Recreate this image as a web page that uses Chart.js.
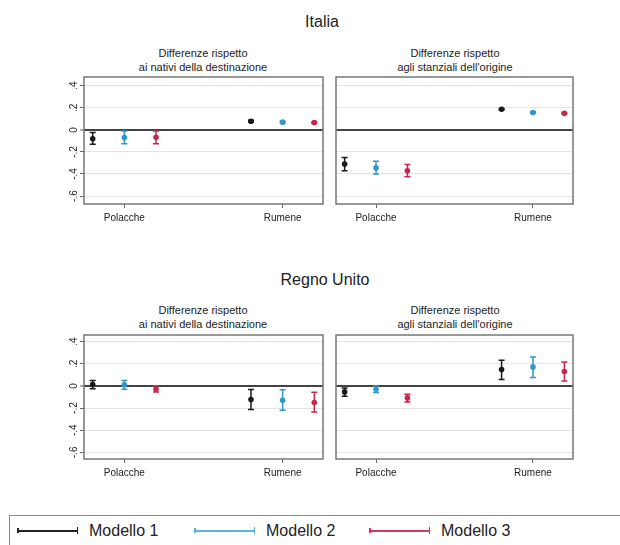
<!DOCTYPE html>
<html><head><meta charset="utf-8">
<script src="https://cdn.jsdelivr.net/npm/chart.js@4/dist/chart.umd.min.js"></script>
<style>
body{margin:0;background:#fff;width:620px;height:545px;position:relative;overflow:hidden;font-family:"Liberation Sans",Arial,sans-serif;color:#222}
canvas{position:absolute}
.t{position:absolute;text-align:center;white-space:nowrap;transform:translateX(-50%)}
.h{font-size:16px;line-height:20px}
.s{font-size:11px;line-height:14px}
#legend{position:absolute;left:9px;top:515px;width:640px;height:40px;border:1px solid #888;box-sizing:border-box}
.li{position:absolute;top:0;height:30px;width:170px}
.lk{position:absolute;top:11px;height:7px;width:61px}
.lk .ln{position:absolute;left:0;right:0;top:2.5px;height:2px}
.lk .cp{position:absolute;right:0;top:0;width:1.5px;height:7px}
.lk .cl{position:absolute;left:0;top:1px;width:1.5px;height:5px}
.lt{position:absolute;left:72px;top:5px;font-size:16px;line-height:20px;white-space:nowrap}
</style></head><body>

<div class="t h" style="left:322px;top:12px">Italia</div>
<div class="t s" style="left:203px;top:46px">Differenze rispetto<br>ai nativi della destinazione</div>
<div class="t s" style="left:455px;top:46px">Differenze rispetto<br>agli stanziali dell'origine</div>
<div class="t h" style="left:325px;top:270px">Regno Unito</div>
<div class="t s" style="left:203px;top:303px">Differenze rispetto<br>ai nativi della destinazione</div>
<div class="t s" style="left:455px;top:303px">Differenze rispetto<br>agli stanziali dell'origine</div>

<canvas id="c1" width="274" height="160" style="left:55px;top:70px"></canvas>
<canvas id="c2" width="249" height="160" style="left:330px;top:70px"></canvas>
<canvas id="c3" width="274" height="160" style="left:55px;top:328px"></canvas>
<canvas id="c4" width="249" height="160" style="left:330px;top:328px"></canvas>

<div id="legend"></div>

<script>
// ---- data ----
const categories = ['Polacche', 'Rumene'];
const models = ['Modello 1', 'Modello 2', 'Modello 3'];
const yTicks = [-0.6, -0.4, -0.2, 0, 0.2, 0.4];
const yTickLabels = ['-.6', '-.4', '-.2', '0', '.2', '.4'];

// estimates per model: [Polacche, Rumene]
const itNatEst = [[-0.080, 0.078], [-0.070, 0.070], [-0.068, 0.066]];
const itNatLo  = [[-0.130, 0.070], [-0.125, 0.063], [-0.125, 0.058]];
const itNatHi  = [[-0.025, 0.086], [-0.010, 0.077], [-0.010, 0.074]];

const itStaEst = [[-0.310, 0.187], [-0.345, 0.157], [-0.370, 0.151]];
const itStaLo  = [[-0.370, 0.180], [-0.400, 0.150], [-0.425, 0.144]];
const itStaHi  = [[-0.250, 0.194], [-0.285, 0.164], [-0.315, 0.158]];

const ukNatEst = [[0.012, -0.123], [0.010, -0.130], [-0.028, -0.150]];
const ukNatLo  = [[-0.025, -0.214], [-0.030, -0.220], [-0.055, -0.235]];
const ukNatHi  = [[0.050, -0.033], [0.050, -0.035], [0.002, -0.057]];

const ukStaEst = [[-0.054, 0.148], [-0.030, 0.172], [-0.108, 0.130]];
const ukStaLo  = [[-0.093, 0.058], [-0.060, 0.076], [-0.145, 0.045]];
const ukStaHi  = [[-0.018, 0.232], [0.000, 0.262], [-0.075, 0.217]];

// ---- styles ----
const colors = ['#1a1a1a', '#2f97c9', '#c9264d'];
const legendColors = ['#222', '#59b3dc', '#d0395d'];
const modelOffsets = [-0.2, 0, 0.2];

const errorBars = {
  id: 'errorBars',
  beforeDatasetsDraw(chart) {
    const {ctx, scales: {x, y}} = chart;
    ctx.save();
    chart.data.datasets.forEach((ds) => {
      ctx.strokeStyle = ds.borderColor;
      ctx.lineWidth = 1.5;
      ds.data.forEach((p) => {
        const px = x.getPixelForValue(p.x);
        const pl = y.getPixelForValue(p.lo);
        const ph = y.getPixelForValue(p.hi);
        ctx.beginPath();
        ctx.moveTo(px, pl); ctx.lineTo(px, ph);
        ctx.moveTo(px - 3, pl); ctx.lineTo(px + 3, pl);
        ctx.moveTo(px - 3, ph); ctx.lineTo(px + 3, ph);
        ctx.stroke();
      });
    });
    ctx.restore();
  }
};
const frame = {
  id: 'frame',
  afterDraw(chart) {
    const a = chart.chartArea, ctx = chart.ctx;
    ctx.save();
    ctx.strokeStyle = '#777';
    ctx.lineWidth = 1.5;
    ctx.strokeRect(a.left, a.top, a.right - a.left, a.bottom - a.top);
    ctx.restore();
  }
};

function panel(id, est, lo, hi, o) {
  const datasets = models.map((m, k) => ({
    label: m,
    data: categories.map((c, i) => ({x: i + 1 + modelOffsets[k], y: est[k][i], lo: lo[k][i], hi: hi[k][i]})),
    backgroundColor: colors[k],
    borderColor: colors[k],
    pointRadius: 2.8,
    pointBorderWidth: 0,
    showLine: false
  }));
  new Chart(document.getElementById(id), {
    type: 'scatter',
    data: {datasets},
    plugins: [errorBars, frame],
    options: {
      responsive: false, animation: false,
      layout: {padding: {top: 7, right: 6, left: o.labels ? 0 : 6, bottom: 0}},
      plugins: {legend: {display: false}, tooltip: {enabled: false}},
      scales: {
        x: {
          type: 'linear', min: 0.745, max: 2.255,
          afterBuildTicks: s => { s.ticks = categories.map((c, i) => ({value: i + 1})); },
          ticks: {callback: (v, i) => categories[i], font: {size: 10, family: 'Liberation Sans'}, color: '#222',
                  padding: 4, minRotation: 0, maxRotation: 0, autoSkip: false},
          grid: {drawOnChartArea: false, drawTicks: true, tickLength: 4, tickColor: '#666', tickWidth: 1},
          border: {display: false},
          afterFit: s => { s.height = o.xh; }
        },
        y: {
          min: o.ymin, max: o.ymax,
          afterBuildTicks: s => { s.ticks = yTicks.map(v => ({value: v})); },
          ticks: {display: o.labels, callback: (v, i) => yTickLabels[i], minRotation: 90, maxRotation: 90,
                  crossAlign: 'center', padding: 0, font: {size: 10, family: 'Liberation Sans'}, color: '#222'},
          grid: {
            color: c => (c.tick && c.tick.value === 0) ? '#444' : '#e3e3e3',
            lineWidth: c => (c.tick && c.tick.value === 0) ? 2 : 1,
            drawTicks: o.labels, tickLength: 4, tickColor: '#666', tickWidth: 1
          },
          border: {display: false},
          afterFit: s => { s.width = o.labels ? 29 : 0; }
        }
      }
    }
  });
}

panel('c1', itNatEst, itNatLo, itNatHi, {labels: true, xh: 26, ymin: -0.672, ymax: 0.479});
panel('c2', itStaEst, itStaLo, itStaHi, {labels: false, xh: 26, ymin: -0.672, ymax: 0.479});
panel('c3', ukNatEst, ukNatLo, ukNatHi, {labels: true, xh: 29, ymin: -0.66, ymax: 0.46});
panel('c4', ukStaEst, ukStaLo, ukStaHi, {labels: false, xh: 29, ymin: -0.66, ymax: 0.46});

// legend
const legendX = [7, 184, 359];
const lg = document.getElementById('legend');
models.forEach((m, k) => {
  const it = document.createElement('div');
  it.className = 'li';
  it.style.left = legendX[k] + 'px';
  it.innerHTML = '<div class="lk"><div class="ln" style="background:' + legendColors[k] + '"></div>' +
    '<div class="cl" style="background:' + legendColors[k] + '"></div>' +
    '<div class="cp" style="background:' + legendColors[k] + '"></div></div>' +
    '<div class="lt">' + m + '</div>';
  lg.appendChild(it);
});
</script>
</body></html>
